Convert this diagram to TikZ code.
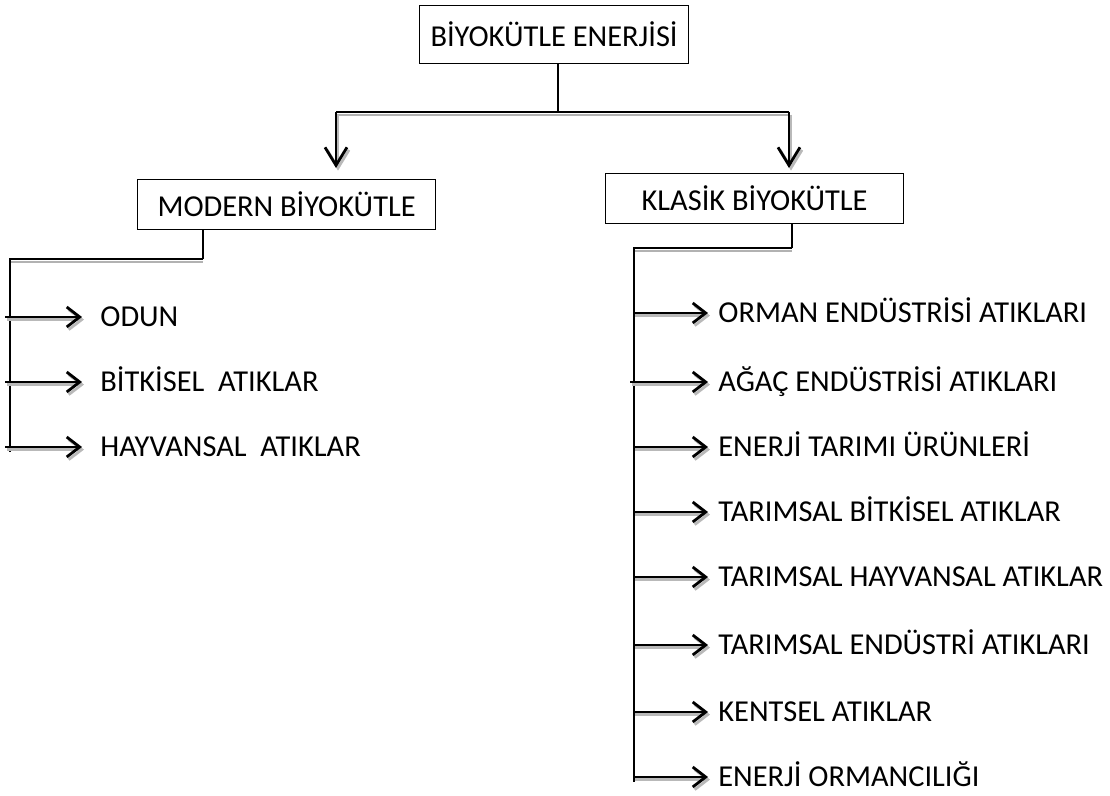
\documentclass[tikz,border=0pt]{standalone}
\usepackage{fontspec}
\setmainfont{Carlito}
\usetikzlibrary{arrows.meta}
\begin{document}
\begin{tikzpicture}[x=0.5pt,y=-0.5pt,font=\fontsize{15.2}{18}\selectfont,
  kutu/.style={draw=black,line width=0.6pt,anchor=north west,inner sep=0pt,minimum height=25pt,minimum width=149pt},
  yazi/.style={anchor=west,inner sep=0pt,text height=9.8pt,text depth=0pt},
  ince/.style={line width=0.6pt},
  ok/.style={line width=1.4pt,-{Straight Barb[length=6.5pt,width=10pt,line width=1.4pt]}},
  buyukok/.style={line width=1.4pt,-{Straight Barb[length=9pt,width=11pt,line width=1.4pt]}},
  golge/.style={gray!55,transform canvas={xshift=1pt,yshift=-1.3pt}}]
\useasboundingbox (0,0) rectangle (1110,796);
\node[kutu,minimum height=29pt,minimum width=134.5pt] (ust) at (419,5) {BİYOKÜTLE ENERJİSİ};
\node[kutu] (modern) at (137,179) {MODERN BİYOKÜTLE\hspace{10pt}};
\node[kutu] (klasik) at (605,173) {KLASİK BİYOKÜTLE\hspace{6pt}};
% dallanma
\coordinate (c0) at (558,112);
\coordinate (c1) at (336,112);
\coordinate (c2) at (789,112);
\draw[ince] (ust.south -| c0) -- (c0);
\draw[ince,gray!60] (336,115) -- (789,115);
\draw[ince] (c1) -- (c2);
\draw[buyukok,golge,shorten >=5.5pt] (c1) -- (modern.north -| c1);
\draw[buyukok,shorten >=5.5pt] (c1) -- (modern.north -| c1);
\draw[buyukok,golge,shorten >=2.5pt] (c2) -- (klasik.north -| c2);
\draw[buyukok,shorten >=2.5pt] (c2) -- (klasik.north -| c2);
% modern
\coordinate (m0) at (203,259);
\coordinate (m1) at (10,259);
\draw[ince] (modern.south -| m0) -- (m0);
\draw[ince,gray!60] (10,262) -- (203,262);
\draw[ince] (m0) -- (m1) -- (10,452);
\node[yazi] (odun) at (100,317) {ODUN};
\node[yazi] (bitki) at (100,382) {BİTKİSEL\ \ ATIKLAR};
\node[yazi] (hayvan) at (100,447) {HAYVANSAL\ \ ATIKLAR};
\coordinate (a1) at (5,317);
\coordinate (a2) at (5,382);
\coordinate (a3) at (5,447);
\draw[ok,golge,shorten >=9pt] (a1) -- (odun); \draw[ok,shorten >=9pt] (a1) -- (odun);
\draw[ok,golge,shorten >=9pt] (a2) -- (bitki); \draw[ok,shorten >=9pt] (a2) -- (bitki);
\draw[ok,golge,shorten >=9pt] (a3) -- (hayvan); \draw[ok,shorten >=9pt] (a3) -- (hayvan);
% klasik
\coordinate (k0) at (792,248);
\coordinate (k1) at (634,248);
\draw[ince] (klasik.south -| k0) -- (k0);
\draw[ince,gray!60] (634,251) -- (792,251);
\draw[ince] (k0) -- (k1) -- (634,782);
\node[yazi] (orman) at (718,313) {ORMAN ENDÜSTRİSİ ATIKLARI};
\node[yazi] (agac) at (718,382) {AĞAÇ ENDÜSTRİSİ ATIKLARI};
\node[yazi] (tarim) at (718,447) {ENERJİ TARIMI ÜRÜNLERİ};
\node[yazi] (tbitki) at (718,512) {TARIMSAL BİTKİSEL ATIKLAR};
\node[yazi] (thayvan) at (718,577) {TARIMSAL HAYVANSAL ATIKLAR};
\node[yazi] (tendus) at (718,645) {TARIMSAL ENDÜSTRİ ATIKLARI};
\node[yazi] (kent) at (718,712) {KENTSEL ATIKLAR};
\node[yazi] (ormanci) at (718,777) {ENERJİ ORMANCILIĞI};
\coordinate (b1) at (633,313);
\coordinate (b2) at (630,382);
\coordinate (b3) at (633,447);
\coordinate (b4) at (633,512);
\coordinate (b5) at (633,577);
\coordinate (b6) at (633,645);
\coordinate (b7) at (633,712);
\coordinate (b8) at (633,777);
\draw[ok,golge,shorten >=5pt] (b1) -- (orman); \draw[ok,shorten >=5pt] (b1) -- (orman);
\draw[ok,golge,shorten >=5pt] (b2) -- (agac); \draw[ok,shorten >=5pt] (b2) -- (agac);
\draw[ok,golge,shorten >=5pt] (b3) -- (tarim); \draw[ok,shorten >=5pt] (b3) -- (tarim);
\draw[ok,golge,shorten >=5pt] (b4) -- (tbitki); \draw[ok,shorten >=5pt] (b4) -- (tbitki);
\draw[ok,golge,shorten >=5pt] (b5) -- (thayvan); \draw[ok,shorten >=5pt] (b5) -- (thayvan);
\draw[ok,golge,shorten >=5pt] (b6) -- (tendus); \draw[ok,shorten >=5pt] (b6) -- (tendus);
\draw[ok,golge,shorten >=5pt] (b7) -- (kent); \draw[ok,shorten >=5pt] (b7) -- (kent);
\draw[ok,golge,shorten >=5pt] (b8) -- (ormanci); \draw[ok,shorten >=5pt] (b8) -- (ormanci);
\end{tikzpicture}
\end{document}
